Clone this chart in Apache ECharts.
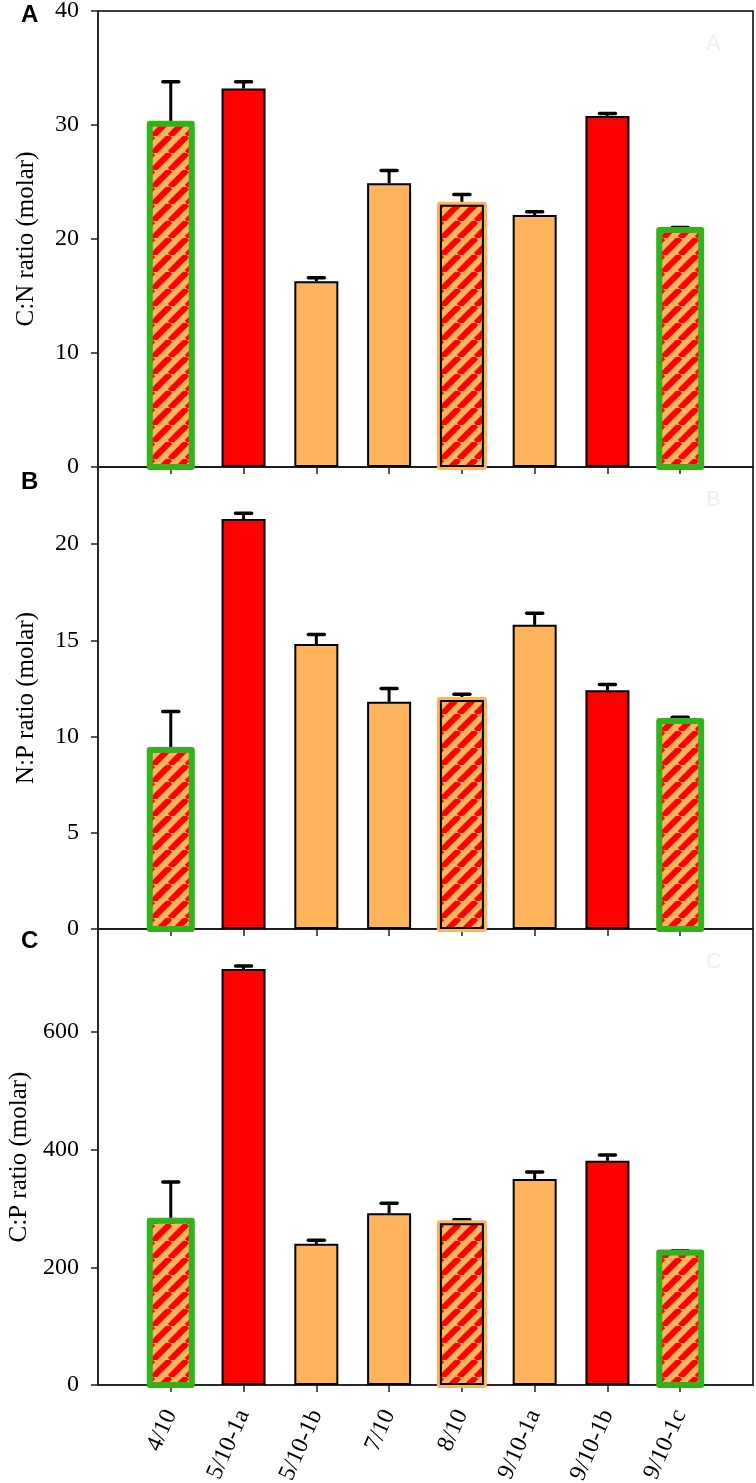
<!DOCTYPE html>
<html><head><meta charset="utf-8">
<script src="https://cdn.jsdelivr.net/npm/echarts@6/dist/echarts.min.js"></script>
<style>html,body{margin:0;padding:0;background:#fff}#c{width:756px;height:1483px}</style>
</head><body><div id="c"></div>
<script>
const categories = ['4/10','5/10-1a','5/10-1b','7/10','8/10','9/10-1a','9/10-1b','9/10-1c'];
const barKinds = ['hatchGreen','red','orange','orange','hatchHalo','orange','red','hatchGreen'];
const cnValues = [30.1,33.2,16.3,24.9,23.0,22.1,30.8,20.8];
const cnErrors = [3.7,0.6,0.3,1.1,0.9,0.3,0.2,0.2];
const npValues = [9.3,21.3,14.8,11.8,11.9,15.8,12.4,10.8];
const npErrors = [2.0,0.3,0.5,0.7,0.3,0.6,0.3,0.2];
const cpValues = [279,707,240,292,275,350,381,225];
const cpErrors = [66,5,6,17,6,12,10,3];
const cnTicks = [0,10,20,30,40];
const npTicks = [0,5,10,15,20];
const cpTicks = [0,200,400,600];
const axisNames = ['C:N ratio (molar)','N:P ratio (molar)','C:P ratio (molar)'];
const panelLetters = ['A','B','C'];

const RED = '#ff0000', ORANGE = '#fdb45c', GREEN = '#34b21c';
function makeHatch(){
  const s = 17, c = document.createElement('canvas');
  c.width = s; c.height = s;
  const g = c.getContext('2d');
  g.fillStyle = ORANGE; g.fillRect(0,0,s,s);
  g.strokeStyle = RED; g.lineWidth = s/Math.SQRT2/2;
  for (let k=-1;k<=1;k++){ g.beginPath(); g.moveTo(k*s, s); g.lineTo(k*s+s, 0); g.stroke(); }
  return c;
}
const hatch = {image: makeHatch(), repeat: 'repeat'};

function styleFor(kind){
  if (kind==='red') return {color: RED, borderColor:'#000', borderWidth:2};
  if (kind==='orange') return {color: ORANGE, borderColor:'#000', borderWidth:2};
  if (kind==='hatchGreen') return {color: hatch, borderWidth:0};
  return {color: hatch, borderColor:'#000', borderWidth:2};
}

const panels = [
  {top:11, height:456, max:40, values:cnValues, errors:cnErrors, ticks:cnTicks},
  {top:467, height:462, max:24, values:npValues, errors:npErrors, ticks:npTicks},
  {top:929, height:456, max:775, values:cpValues, errors:cpErrors, ticks:cpTicks}
];
const xPos = categories.map((c,i)=>i+1);
const serif = 'Liberation Serif, Times New Roman, serif';
const sans = 'Liberation Sans, Arial, sans-serif';

const grid=[], xAxis=[], yAxis=[], series=[];
panels.forEach((p,pi)=>{
  grid.push({left:98, right:3, top:p.top, height:p.height, show:true, borderColor:'#000', borderWidth:1.5,
    backgroundColor:'transparent', containLabel:false, outerBoundsMode:'none'});
  xAxis.push({type:'value', gridIndex:pi, min:0, max:9, splitLine:{show:false},
    axisLine:{lineStyle:{color:'#222', width:1.5}},
    axisTick:{customValues:xPos, length:7, lineStyle:{color:'#222', width:1.5}},
    axisLabel:{show: pi===2, customValues:xPos, rotate:66, margin:26, color:'#000',
      fontFamily:serif, fontSize:24, formatter:v=>categories[Math.round(v)-1]||''}});
  yAxis.push({type:'value', gridIndex:pi, min:0, max:p.max, splitLine:{show:false},
    name:axisNames[pi], nameLocation:'middle', nameGap:59,
    nameTextStyle:{fontFamily:serif, fontSize:25, color:'#000'},
    axisLine:{show:true, lineStyle:{color:'#222', width:1.5}},
    axisTick:{show:true, customValues:p.ticks, length:7, lineStyle:{color:'#222', width:1.5}},
    axisLabel:{customValues:p.ticks, margin:19, color:'#000', fontFamily:serif, fontSize:24}});
  // error bars (upper only), under the bars
  series.push({type:'custom', xAxisIndex:pi, yAxisIndex:pi, z:1, clip:false,
    data: p.values.map((v,i)=>[i+1, v, p.errors[i]]),
    encode:{x:0, y:1},
    renderItem:(params, api)=>{
      const x=api.value(0), v=api.value(1), e=api.value(2);
      const p0=api.coord([x,v]), p1=api.coord([x,v+e]);
      return {type:'group', children:[
        {type:'line', shape:{x1:p0[0],y1:p0[1],x2:p1[0],y2:p1[1]}, style:{stroke:'#000', lineWidth:3}},
        {type:'line', shape:{x1:p1[0]-8,y1:p1[1],x2:p1[0]+8,y2:p1[1]}, style:{stroke:'#000', lineWidth:3.5, lineCap:'round'}}
      ]};
    }});
  // orange halo behind hatched 8/10 bar
  series.push({type:'custom', xAxisIndex:pi, yAxisIndex:pi, z:2, clip:false,
    data: p.values.map((v,i)=>[i+1, v]).filter((d,i)=>barKinds[i]==='hatchHalo'),
    encode:{x:0, y:1},
    renderItem:(params, api)=>{
      const t=api.coord([api.value(0), api.value(1)]), b=api.coord([api.value(0), 0]);
      return {type:'rect', shape:{x:t[0]-22, y:t[1], width:44, height:b[1]-t[1]},
        style:{fill:ORANGE, stroke:ORANGE, lineWidth:6, lineJoin:'round'}};
    }});
  series.push({type:'bar', xAxisIndex:pi, yAxisIndex:pi, z:3, barWidth:44,
    data: p.values.map((v,i)=>({value:[i+1,v], itemStyle:styleFor(barKinds[i])}))});
  // thick green outline around hatched 4/10 and 9/10-1c bars
  series.push({type:'custom', xAxisIndex:pi, yAxisIndex:pi, z:4, clip:false,
    data: p.values.map((v,i)=>[i+1, v]).filter((d,i)=>barKinds[i]==='hatchGreen'),
    encode:{x:0, y:1},
    renderItem:(params, api)=>{
      const t=api.coord([api.value(0), api.value(1)]), b=api.coord([api.value(0), 0]);
      return {type:'rect', shape:{x:t[0]-21, y:t[1], width:42, height:b[1]-t[1]},
        style:{fill:null, stroke:GREEN, lineWidth:6, lineJoin:'round'}};
    }});
});

const graphic = [];
const letterTops = [3, 470, 929];
panels.forEach((p,pi)=>{
  graphic.push({type:'text', left:21, top:letterTops[pi], style:{text:panelLetters[pi], fontFamily:sans, fontWeight:'bold', fontSize:24, fill:'#000'}});
  graphic.push({type:'text', left:706, top:p.top+22, style:{text:panelLetters[pi], fontFamily:sans, fontSize:22, fill:'#f0f0f0'}});
});

const chart = echarts.init(document.getElementById('c'), null, {renderer:'canvas'});
chart.setOption({animation:false, backgroundColor:'#fff', grid, xAxis, yAxis, series, graphic});
</script></body></html>
